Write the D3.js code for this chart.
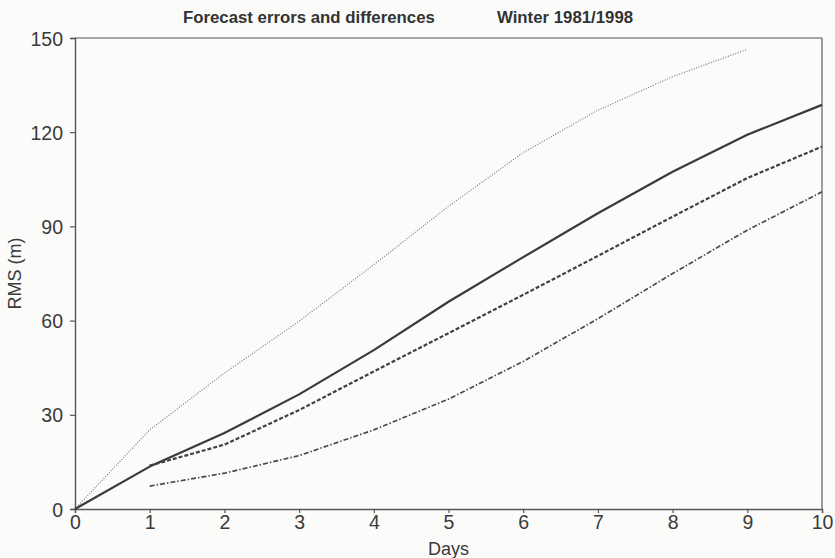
<!DOCTYPE html>
<html lang="en">
<head>
  <meta charset="UTF-8" />
  <title>Forecast errors and differences</title>
  <style>
    body {
      margin: 0;
      background: #fbfbfa;
      font-family: "Liberation Sans", Arial, sans-serif;
    }
    svg {
      display: block;
    }
    .line {
      fill: none;
    }
    .tick text {
      font-size: 19.5px;
      fill: #3a3a3a;
    }
  </style>
  <script src="https://d3js.org/d3.v7.min.js"></script>
</head>
<body>
  <svg id="chart" width="835" height="558"></svg>

  <script>
    // ---------- data ----------
    const days = [0, 1, 2, 3, 4, 5, 6, 7, 8, 9, 10];
    // dotted, upper curve (stops at day 9)
    const dottedDays = [0, 1, 2, 3, 4, 5, 6, 7, 8, 9];
    const dottedRms = [0, 25.2, 43.3, 59.8, 77.8, 96.4, 113.5, 127, 137.7, 146.4];
    // solid curve
    const solidRms = [0, 13.5, 24.2, 36.5, 50.6, 66, 80.2, 94.2, 107.4, 119.2, 128.7];
    // dashed curve (starts at day 1)
    const dashedDays = [1, 2, 3, 4, 5, 6, 7, 8, 9, 10];
    const dashedRms = [13.8, 20.5, 31.5, 43.8, 56, 68.2, 80.6, 93.1, 105.4, 115.4];
    // dash-dot curve (starts at day 1)
    const dashDotDays = [1, 2, 3, 4, 5, 6, 7, 8, 9, 10];
    const dashDotRms = [7.3, 11.4, 17, 25.2, 35, 47, 60.6, 75, 88.8, 101];

    const yTicks = [0, 30, 60, 90, 120, 150];
    const xTicks = days;

    // ---------- layout ----------
    const svg = d3.select("#chart");
    const margin = { top: 38, right: 13, bottom: 49, left: 75 };
    const width = 835 - margin.left - margin.right;
    const height = 558 - margin.top - margin.bottom;

    const x = d3.scaleLinear().domain([0, 10]).range([0, width]);
    const y = d3.scaleLinear().domain([0, 150]).range([height, 0]);

    const g = svg.append("g")
      .attr("transform", `translate(${margin.left},${margin.top})`);

    // top and right frame lines (lighter)
    g.append("line")
      .attr("x1", 0).attr("x2", width).attr("y1", 0).attr("y2", 0)
      .attr("stroke", "#8a8a8a").attr("stroke-width", 1.3);
    g.append("line")
      .attr("x1", width).attr("x2", width).attr("y1", 0).attr("y2", height)
      .attr("stroke", "#6a6a6a").attr("stroke-width", 1.3);

    // axes
    const xAxis = g.append("g")
      .attr("transform", `translate(0,${height})`)
      .call(d3.axisBottom(x).tickValues(xTicks).tickFormat(d3.format("d")).tickSize(4).tickPadding(2));
    const yAxis = g.append("g")
      .call(d3.axisLeft(y).tickValues(yTicks).tickSize(5).tickPadding(7));

    [xAxis, yAxis].forEach(ax => {
      ax.select(".domain").attr("stroke", "#555").attr("stroke-width", 1.4);
      ax.selectAll(".tick line").attr("stroke", "#555").attr("stroke-width", 1.2);
    });
    yAxis.selectAll(".tick text").attr("dy", "0.36em");

    // ---------- series ----------
    const line = d3.line()
      .x(d => x(d[0]))
      .y(d => y(d[1]));

    const series = [
      { pts: d3.zip(dottedDays, dottedRms), stroke: "#7a7a7a", width: 1.2, dash: "1,1.6" },
      { pts: d3.zip(days, solidRms), stroke: "#3a3a3a", width: 2.2, dash: null },
      { pts: d3.zip(dashedDays, dashedRms), stroke: "#404040", width: 2.2, dash: "4,2" },
      { pts: d3.zip(dashDotDays, dashDotRms), stroke: "#4a4a4a", width: 1.7, dash: "5,2,1.5,2" }
    ];

    g.selectAll("path.line")
      .data(series)
      .enter()
      .append("path")
      .attr("class", "line")
      .attr("d", d => line(d.pts))
      .attr("stroke", d => d.stroke)
      .attr("stroke-width", d => d.width)
      .attr("stroke-dasharray", d => d.dash)
      .attr("stroke-linejoin", "round");

    // ---------- titles ----------
    svg.append("text")
      .attr("x", 183).attr("y", 23)
      .attr("font-size", 16.8).attr("font-weight", "bold").attr("fill", "#333")
      .text("Forecast errors and differences");
    svg.append("text")
      .attr("x", 497).attr("y", 23)
      .attr("font-size", 16.8).attr("font-weight", "bold").attr("fill", "#333")
      .text("Winter 1981/1998");

    svg.append("text")
      .attr("transform", `translate(21,${margin.top + height / 2}) rotate(-90)`)
      .attr("text-anchor", "middle")
      .attr("font-size", 18).attr("fill", "#3a3a3a")
      .text("RMS (m)");

    svg.append("text")
      .attr("x", margin.left + width / 2).attr("y", 555)
      .attr("text-anchor", "middle")
      .attr("font-size", 18).attr("fill", "#3a3a3a")
      .text("Days");
  </script>
</body>
</html>
